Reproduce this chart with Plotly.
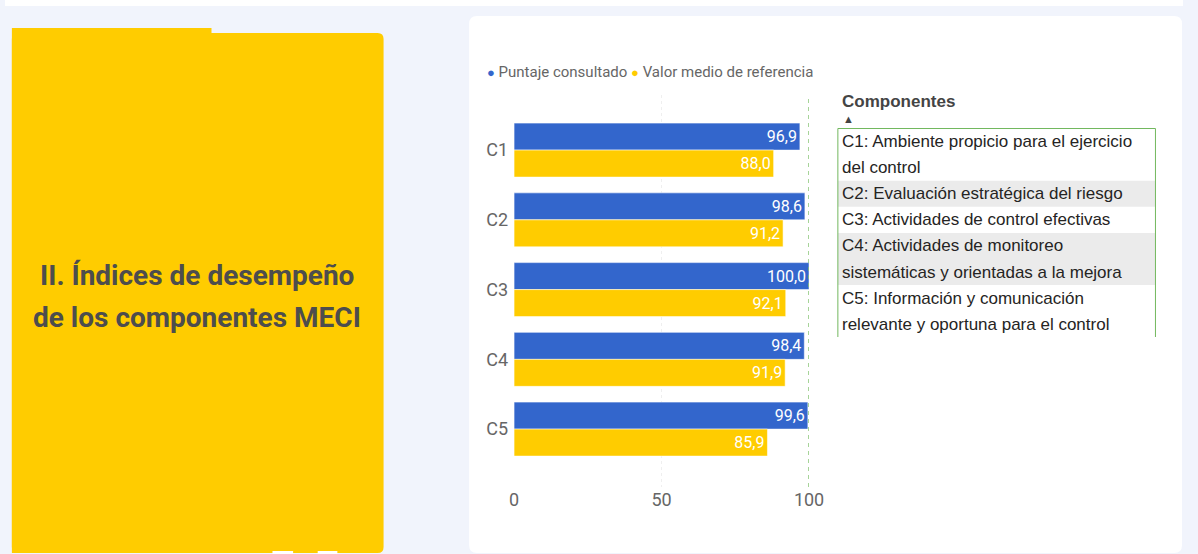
import plotly.graph_objects as go

# ---- data ----
categories = ["C1", "C2", "C3", "C4", "C5"]
puntaje = [96.9, 98.6, 100.0, 98.4, 99.6]
referencia = [88.0, 91.2, 92.1, 91.9, 85.9]
x_ticks = [0, 50, 100]
reference_line = 100
series_names = ["Puntaje consultado", "Valor medio de referencia"]
componentes = [
    "C1: Ambiente propicio para el ejercicio\ndel control",
    "C2: Evaluación estratégica del riesgo",
    "C3: Actividades de control efectivas",
    "C4: Actividades de monitoreo\nsistemáticas y orientadas a la mejora",
    "C5: Información y comunicación\nrelevante y oportuna para el control",
]
title_lines = ["II. Índices de desempeño", "de los componentes MECI"]

W, H = 1198, 554
BLUE = "#3366CC"
YELLOW = "#FFCC00"
CHART_FONT = "Roboto, Liberation Sans, Arial"
SANS = "Liberation Sans, Arial"


def px(x):
    return x / W


def py(y):
    return 1 - y / H


def rrect(x0, y0, x1, y1, r):
    pts = [
        f"M {px(x0 + r)} {py(y0)}",
        f"L {px(x1 - r)} {py(y0)}",
        f"Q {px(x1)} {py(y0)} {px(x1)} {py(y0 + r)}",
        f"L {px(x1)} {py(y1 - r)}",
        f"Q {px(x1)} {py(y1)} {px(x1 - r)} {py(y1)}",
        f"L {px(x0 + r)} {py(y1)}",
        f"Q {px(x0)} {py(y1)} {px(x0)} {py(y1 - r)}",
        f"L {px(x0)} {py(y0 + r)}",
        f"Q {px(x0)} {py(y0)} {px(x0 + r)} {py(y0)}",
        "Z",
    ]
    return " ".join(pts)


shapes = []
annotations = []

# page background strip
shapes.append(dict(type="rect", xref="paper", yref="paper", layer="below",
                   x0=0, x1=1, y0=py(6), y1=1, fillcolor="white", line_width=0))
# yellow panel
shapes.append(dict(type="rect", xref="paper", yref="paper", layer="below",
                   x0=px(7), x1=px(210), y0=py(553), y1=py(28),
                   fillcolor=YELLOW, line_width=0))
shapes.append(dict(type="path", xref="paper", yref="paper", layer="below",
                   path=rrect(7, 33, 385, 553, 6), fillcolor=YELLOW, line_width=0))
for a, b in [(272, 293), (318, 338)]:
    shapes.append(dict(type="rect", xref="paper", yref="paper", layer="below",
                       x0=px(a), x1=px(b), y0=py(554), y1=py(551),
                       fillcolor="white", line_width=0))
# white card
shapes.append(dict(type="path", xref="paper", yref="paper", layer="below",
                   path=rrect(472, 16, 1197, 553, 8), fillcolor="white", line_width=0))

# title on yellow panel
for i, t in enumerate(title_lines):
    annotations.append(dict(text=f"<b>{t}</b>", xref="paper", yref="paper",
                            x=px(195), y=py(275 + 42 * i), xanchor="center", yanchor="middle",
                            showarrow=False,
                            font=dict(family="Roboto", size=28, color="#4D4D4D")))

# legend (as text)
annotations.append(dict(
    text=(f'<span style="color:{BLUE};font-size:13px">●</span> {series_names[0]} '
          f'<span style="color:{YELLOW};font-size:13px">●</span> {series_names[1]}'),
    xref="paper", yref="paper", x=px(488), y=py(72), xanchor="left", yanchor="middle",
    showarrow=False, font=dict(family=CHART_FONT, size=15, color="#666666")))

# reference dashed line
shapes.append(dict(type="line", xref="x", yref="paper", x0=reference_line, x1=reference_line,
                   y0=py(487), y1=py(95),
                   line=dict(color="#82C26E", width=1.5, dash="4px,4px")))

# table on the right
tx0, tx1, ttop, lh = 847, 1170, 128.5, 26.1
row_top = ttop
for k, comp in enumerate(componentes):
    lines = comp.split("\n")
    h = lh * len(lines)
    if k % 2 == 1:
        shapes.append(dict(type="rect", xref="paper", yref="paper", layer="below",
                           x0=px(tx0), x1=px(tx1), y0=py(row_top + h), y1=py(row_top),
                           fillcolor="#EBEBEB", line_width=0))
    for j, ln in enumerate(lines):
        annotations.append(dict(text=ln, xref="paper", yref="paper",
                                x=px(849), y=py(row_top + lh / 2 + lh * j),
                                xanchor="left", yanchor="middle", showarrow=False,
                                font=dict(family=SANS, size=17, color="#252423")))
    row_top += h
tbottom = 337
green = "#72B85E"
shapes.append(dict(type="line", xref="paper", yref="paper", x0=px(tx0), x1=px(tx1),
                   y0=py(ttop), y1=py(ttop), line=dict(color=green, width=1)))
shapes.append(dict(type="line", xref="paper", yref="paper", x0=px(tx0), x1=px(tx0),
                   y0=py(ttop), y1=py(tbottom), line=dict(color=green, width=1)))
shapes.append(dict(type="line", xref="paper", yref="paper", x0=px(tx1), x1=px(tx1),
                   y0=py(ttop), y1=py(tbottom), line=dict(color=green, width=1)))
annotations.append(dict(text="<b>Componentes</b>", xref="paper", yref="paper",
                        x=px(849), y=py(101), xanchor="left", yanchor="middle", showarrow=False,
                        font=dict(family=SANS, size=17, color="#444444")))
annotations.append(dict(text="▲", xref="paper", yref="paper",
                        x=px(850), y=py(119), xanchor="left", yanchor="middle", showarrow=False,
                        font=dict(family=SANS, size=11, color="#444444")))

fig = go.Figure()
for name, vals, col in [(series_names[0], puntaje, BLUE), (series_names[1], referencia, YELLOW)]:
    fig.add_trace(go.Bar(
        name=name, y=categories, x=vals, orientation="h",
        marker=dict(color=col, line=dict(color="rgba(255,255,255,0.55)", width=1)),
        texttemplate="%{x:.1f}", textposition="inside", insidetextanchor="end",
        textangle=0, constraintext="none",
        textfont=dict(family=CHART_FONT, size=16, color="white"),
        showlegend=False,
    ))

fig.update_layout(
    width=W, height=H,
    margin=dict(l=0, r=0, t=0, b=0),
    paper_bgcolor="#F1F4FC", plot_bgcolor="rgba(0,0,0,0)",
    barmode="group", bargap=0.226, bargroupgap=0,
    separators=",.",
    shapes=shapes, annotations=annotations,
    xaxis=dict(domain=[px(517.7), px(817.7)], range=[0, 100], tickvals=x_ticks,
               showgrid=True, gridcolor="#EFEFEF", griddash="dot", gridwidth=1,
               zeroline=False, showline=False, ticks="",
               tickfont=dict(family=CHART_FONT, size=18, color="#666666")),
    yaxis=dict(domain=[py(487), py(95)], type="category", categoryarray=categories,
               range=[4.83, -0.79], showgrid=False, zeroline=False, ticks="",
               ticklabelstandoff=5,
               tickfont=dict(family=CHART_FONT, size=18, color="#666666")),
)

post = (
    "document.documentElement.style.margin='0px';"
    "document.documentElement.style.overflow='hidden';"
    "document.body.style.margin='0px';"
    "document.body.style.overflow='hidden';"
)

fig.write_html(
    "out.html",
    config={"displayModeBar": False},
    post_script=post,
)
